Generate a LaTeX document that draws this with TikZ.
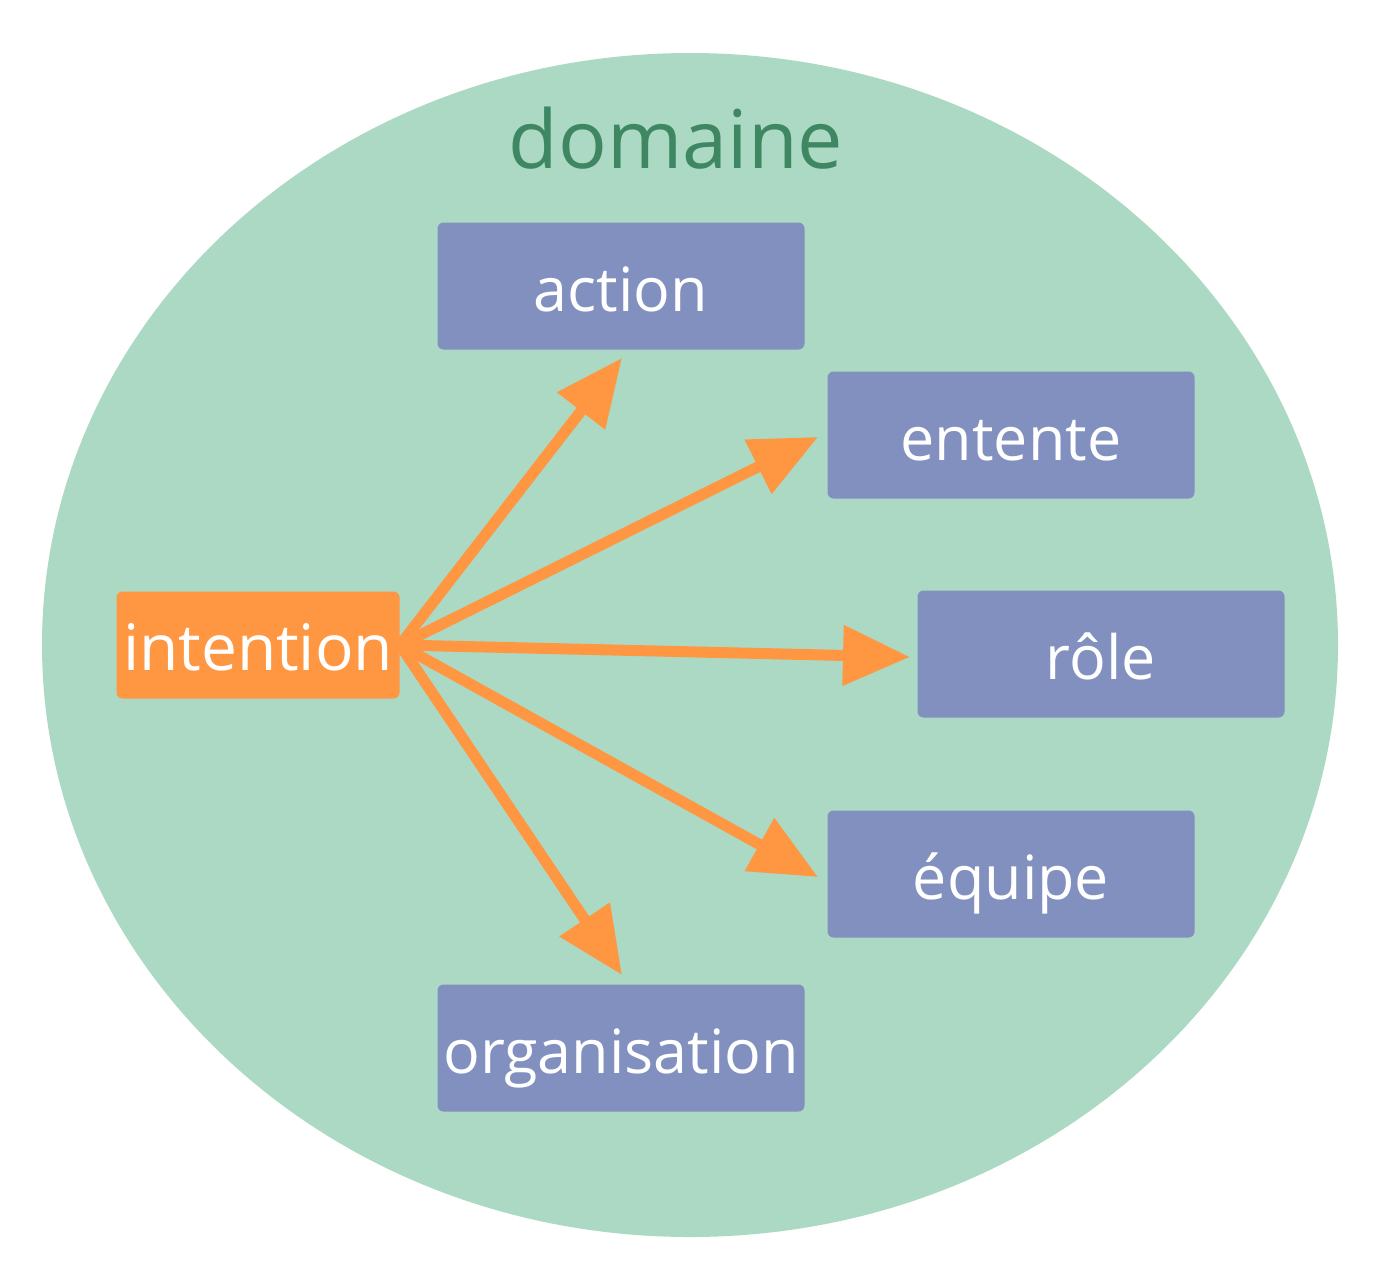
\documentclass[tikz,border=0pt]{standalone}
\usepackage{fontspec}
\setmainfont{Open Sans}
\usetikzlibrary{arrows.meta}
\definecolor{domfill}{HTML}{ACD9C3}
\definecolor{domtext}{HTML}{3F8763}
\definecolor{boxfill}{HTML}{8290C0}
\definecolor{orng}{HTML}{FF9642}
\tikzset{
  box/.style={fill=boxfill, rounded corners=6pt, text=white, minimum width=367pt, minimum height=127pt, font=\fontsize{61}{72}\selectfont, inner sep=0pt, text height=56pt, text depth=6pt},
  srcbox/.style={fill=orng, rounded corners=6pt, text=white, minimum width=283pt, minimum height=107pt, font=\fontsize{64}{76}\selectfont, inner sep=0pt, text height=56pt, text depth=6pt},
  link/.style={draw=orng, line width=11pt, -{Triangle[length=67pt,width=58pt,fill=orng]}}
}
\begin{document}
\begin{tikzpicture}[x=1pt,y=-1pt]
\useasboundingbox (0,0) rectangle (1380,1263);
\fill[domfill] (690,645) ellipse [x radius=648pt, y radius=592pt];
\node[text=domtext, font=\fontsize{81}{96}\selectfont] (dom) at (676,138) {domaine};
\node[box] (action) at (621,286) {action};
\node[box] (entente) at (1011,435) {entente};
\node[box] (role) at (1101,654) {rôle};
\node[box] (equipe) at (1011,874) {équipe};
\node[box] (org) at (621,1048) {organisation};
\node[srcbox] (int) at (258,645) {intention};
\coordinate (src) at (400,645);
\coordinate (ta) at (622,358);
\coordinate (te) at (818,437);
\coordinate (tr) at (910,657);
\coordinate (tq) at (818,877);
\coordinate (to) at (622,975);
\draw[link] (src) -- (ta);
\draw[link] (src) -- (te);
\draw[link] (src) -- (tr);
\draw[link] (src) -- (tq);
\draw[link] (src) -- (to);
\end{tikzpicture}
\end{document}
